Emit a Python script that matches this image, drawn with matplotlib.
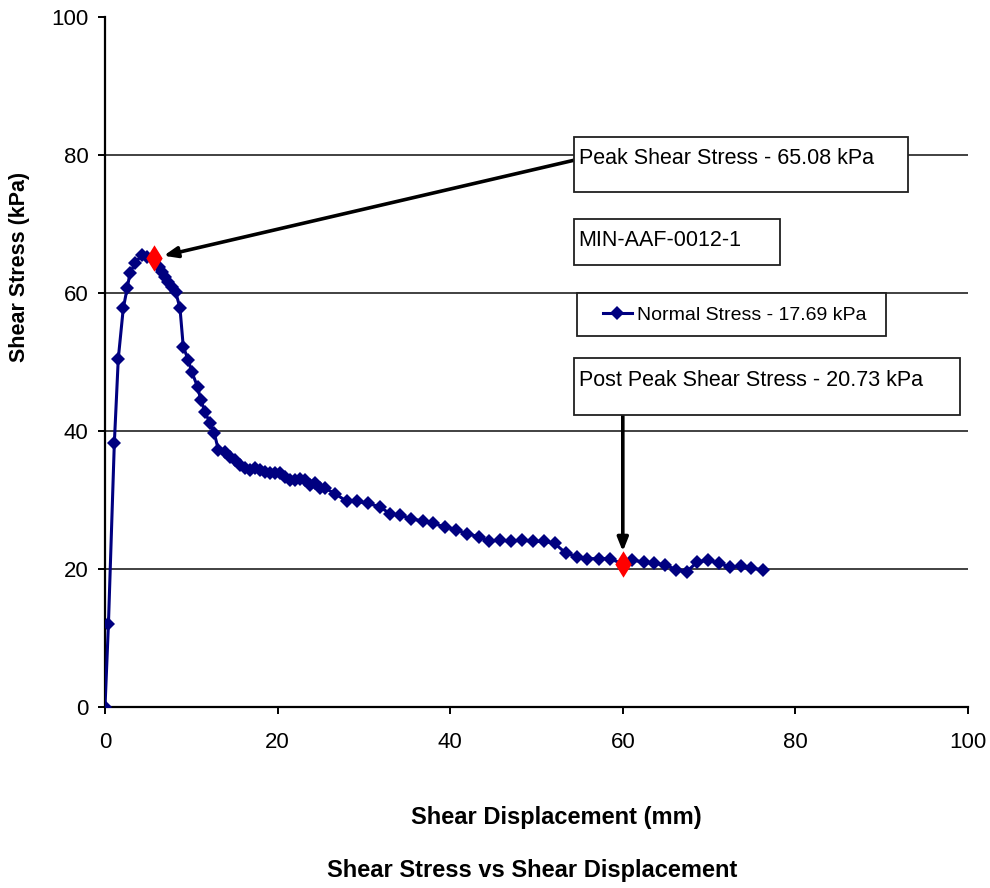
import matplotlib
matplotlib.use("Agg")
import matplotlib.pyplot as plt
from matplotlib import font_manager
from matplotlib.patches import Rectangle
from matplotlib.path import Path

# Shear box test data
displacement_mm = [0, 0.4, 1.08, 1.54, 2.12, 2.57, 2.9, 3.48, 4.24, 4.9, 5.7, 6.2, 6.56, 6.95,
                   7.33, 7.72, 8.18, 8.69, 9.07, 9.65, 10.04, 10.73, 11.1, 11.58, 12.17, 12.66,
                   13.13, 13.9, 14.5, 15.1, 15.6, 16.2, 16.8, 17.4, 18.0, 18.5, 19.1, 19.7, 20.3,
                   20.9, 21.4, 22.0, 22.6, 23.2, 23.8, 24.3, 24.9, 25.5, 26.7, 28.0, 29.2, 30.5,
                   31.9, 33.0, 34.2, 35.5, 36.9, 38.0, 39.4, 40.7, 41.9, 43.3, 44.5, 45.8, 47.0,
                   48.3, 49.6, 50.9, 52.1, 53.4, 54.7, 55.9, 57.3, 58.5, 60.0, 61.1, 62.4, 63.6,
                   64.9, 66.2, 67.4, 68.6, 69.9, 71.2, 72.4, 73.7, 74.9, 76.2]
shear_stress_kpa = [0, 12.1, 38.2, 50.5, 57.8, 60.7, 62.9, 64.3, 65.5, 65.2, 65.08, 63.8, 63.0, 62.3,
                    61.6, 60.9, 60.2, 57.8, 52.2, 50.3, 48.6, 46.4, 44.5, 42.8, 41.1, 39.7,
                    37.3, 37.0, 36.3, 35.8, 35.1, 34.6, 34.3, 34.6, 34.3, 34.1, 33.9, 33.9, 33.9,
                    33.4, 32.9, 32.9, 33.1, 32.9, 32.2, 32.4, 31.7, 31.7, 30.9, 29.8, 29.8, 29.5,
                    29.0, 28.0, 27.8, 27.3, 26.9, 26.6, 26.1, 25.7, 25.1, 24.7, 24.0, 24.2, 24.0,
                    24.2, 24.0, 24.0, 23.7, 22.3, 21.8, 21.5, 21.5, 21.5, 20.73, 21.3, 21.0, 20.8,
                    20.6, 19.9, 19.6, 21.0, 21.3, 20.8, 20.3, 20.4, 20.1, 19.9]

peak_x, peak_y = 5.7, 65.08
post_x, post_y = 60.0, 20.73
normal_stress = 17.69
sample_id = "MIN-AAF-0012-1"
x_ticks = [0, 20, 40, 60, 80, 100]
y_ticks = [0, 20, 40, 60, 80, 100]

names = {f.name for f in font_manager.fontManager.ttflist}
base = "Liberation Sans" if "Liberation Sans" in names else "DejaVu Sans"
plt.rcParams["font.family"] = [base, "DejaVu Sans"]

W, H = 990, 888
fig = plt.figure(figsize=(W / 100, H / 100), dpi=100)
fig.patch.set_facecolor("white")


def fx(px):
    return px / W


def fy(py):
    return 1 - py / H


ax = fig.add_axes([fx(105), fy(707), (968 - 105) / W, (707 - 17) / H])
ax.set_xlim(0, 100)
ax.set_ylim(0, 100)
ax.set_xticks(x_ticks)
ax.set_yticks(y_ticks)
for s in ("top", "right"):
    ax.spines[s].set_visible(False)
for s in ("left", "bottom"):
    ax.spines[s].set_linewidth(1.6)
    ax.spines[s].set_color("black")
ax.tick_params(axis="both", direction="out", length=5, width=1.4, colors="black")
ax.tick_params(axis="y", pad=7, labelsize=16)
ax.tick_params(axis="x", pad=13, labelsize=16)

for gy in y_ticks[1:-1]:
    ax.axhline(gy, color="#333333", lw=1.3, zorder=1)

navy = "#000080"
line, = ax.plot(displacement_mm, shear_stress_kpa, color=navy, lw=2.2, marker="D",
                markersize=7, markeredgewidth=0, zorder=3,
                label=f"Normal Stress - {normal_stress} kPa")

tall_diamond = Path([(0, 1), (0.62, 0), (0, -1), (-0.62, 0), (0, 1)],
                    [Path.MOVETO, Path.LINETO, Path.LINETO, Path.LINETO, Path.CLOSEPOLY])
ax.plot([peak_x, post_x], [peak_y, post_y], linestyle="none", marker=tall_diamond,
        markersize=19, color="#ff0000", markeredgewidth=0, zorder=4)

ax.set_ylabel("Shear Stress (kPa)", fontsize=15.5, fontweight="bold")
ax.yaxis.set_label_coords((30 - 105) / 863, (707 - 267) / 690)

fig.text(fx(556), fy(817), "Shear Displacement (mm)", ha="center", va="center",
         fontsize=17, fontweight="bold")
fig.text(fx(532), fy(870), "Shear Stress vs Shear Displacement", ha="center", va="center",
         fontsize=17, fontweight="bold")


def box(x0, y0, x1, y1):
    fig.add_artist(Rectangle((fx(x0), fy(y1)), (x1 - x0) / W, (y1 - y0) / H,
                             transform=fig.transFigure, facecolor="white",
                             edgecolor="#202020", lw=1.3, zorder=5))


# Arrows from the boxes to the marked points
ax.annotate("", xy=(peak_x, peak_y), xycoords="data",
            xytext=(fx(575), fy(160)), textcoords="figure fraction",
            arrowprops=dict(arrowstyle="-|>,head_length=0.8,head_width=0.32", color="black",
                            lw=2.6, shrinkA=0, shrinkB=7), zorder=6)
ax.annotate("", xy=(post_x, post_y), xycoords="data",
            xytext=(fx(622.8), fy(415)), textcoords="figure fraction",
            arrowprops=dict(arrowstyle="-|>,head_length=0.8,head_width=0.32", color="black",
                            lw=2.6, shrinkA=0, shrinkB=9), zorder=6)

box(574, 137, 908, 192)
fig.text(fx(579), fy(158), f"Peak Shear Stress - {peak_y} kPa", ha="left", va="center",
         fontsize=15.5, zorder=7)

box(574, 219, 780, 265)
fig.text(fx(578), fy(241), sample_id, ha="left", va="center", fontsize=15.5, zorder=7)

box(577, 293, 886, 336)
leg = fig.legend(handles=[line], loc="center left", bbox_to_anchor=(fx(593), fy(315)),
                 frameon=False, borderpad=0, handlelength=1.5, handletextpad=0.25,
                 prop={"size": 14})
leg.set_zorder(7)

box(574, 358, 960, 415)
fig.text(fx(579), fy(380), f"Post Peak Shear Stress - {post_y} kPa", ha="left", va="center",
         fontsize=15.5, zorder=7)

fig.savefig("out.png", dpi=100, facecolor="white")
